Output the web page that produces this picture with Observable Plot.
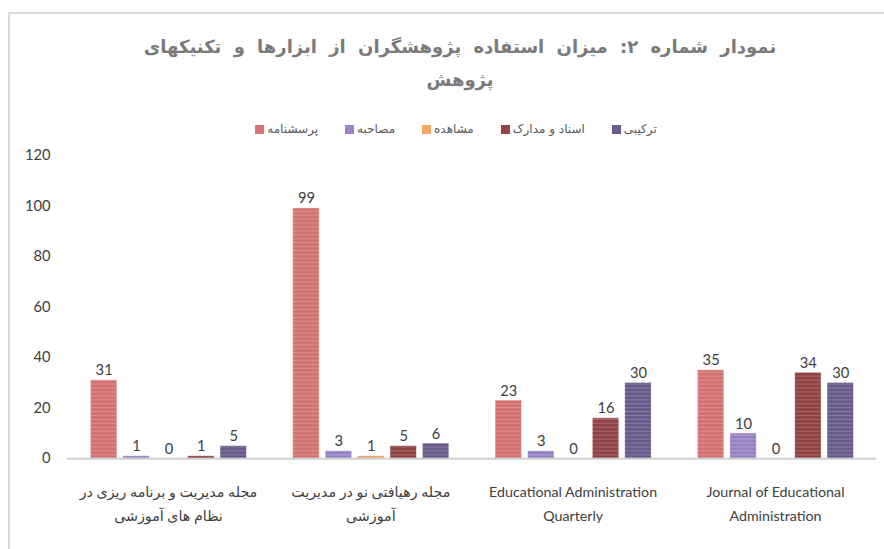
<!DOCTYPE html>
<html>
<head>
<meta charset="utf-8">
<script src="https://cdn.jsdelivr.net/npm/d3@7"></script>
<script src="https://cdn.jsdelivr.net/npm/@observablehq/plot@0.6"></script>
<style>
  html, body { margin: 0; padding: 0; background: #fff; overflow: hidden; width: 884px; height: 549px; }
  #frame { position: absolute; left: 8px; top: 12px; width: 1000px; height: 700px; border-left: 2px solid #d9d9d9; border-top: 2px solid #d9d9d9; }
  #title { position: absolute; left: 60px; width: 800px; top: 30px; text-align: center; direction: rtl;
           font-family: "DejaVu Sans", sans-serif; font-weight: bold; font-size: 18px; line-height: 33px; color: #7a7a7a; word-spacing: 6px; letter-spacing: 1.5px; }
  #legend { position: absolute; left: 0; width: 912px; top: 122px; display: flex; justify-content: center; gap: 27px;
            font-family: "DejaVu Sans", sans-serif; font-size: 12px; color: #595959; }
  #legend .item { display: flex; align-items: center; gap: 3px; }
  #legend .sw { width: 9px; height: 9px; display: inline-block; }
  #chart { position: absolute; left: 0; top: 140px; }
  #chart svg { display: block; }
</style>
</head>
<body>
<div id="frame"></div>
<div id="title">نمودار شماره ۲: میزان استفاده پژوهشگران از ابزارها و تکنیکهای<br>پژوهش</div>
<div id="legend"></div>
<div id="chart"></div>
<script>
const categories = [
  "مجله مدیریت و برنامه ریزی در\nنظام های آموزشی",
  "مجله رهیافتی نو در مدیریت\nآموزشی",
  "Educational Administration\nQuarterly",
  "Journal of Educational\nAdministration"
];
const series = ["پرسشنامه", "مصاحبه", "مشاهده", "اسناد و مدارک", "ترکیبی"];
const questionnaire = [31, 99, 23, 35];
const interview = [1, 3, 3, 10];
const observation = [0, 1, 0, 0];
const documents = [1, 5, 16, 34];
const combined = [5, 6, 30, 30];
const yTicks = [0, 20, 40, 60, 80, 100, 120];
const colors = ["#d77474", "#9a85c6", "#f5a865", "#934545", "#6b5b8e"];

const valuesBySeries = [questionnaire, interview, observation, documents, combined];
const data = [];
categories.forEach((c, i) => {
  series.forEach((s, j) => data.push({cat: c, series: s, value: valuesBySeries[j][i]}));
});

// legend
const legend = document.getElementById("legend");
series.forEach((s, j) => {
  const it = document.createElement("span");
  it.className = "item";
  it.innerHTML = `<span class="sw" style="background:${colors[j]}"></span><span dir="rtl">${s}</span>`;
  legend.appendChild(it);
});

const chart = Plot.plot({
  width: 900,
  height: 409,
  marginTop: 15,
  marginBottom: 85,
  marginLeft: 67,
  marginRight: 7,
  style: {fontFamily: "Lato, 'DejaVu Sans', sans-serif", color: "#595959", background: "transparent"},
  fx: {domain: categories, paddingInner: 0, paddingOuter: 0, axis: null},
  x: {domain: series, paddingInner: 0.19, paddingOuter: 0.7, axis: null},
  y: {domain: [0, 120], axis: null},
  color: {domain: series, range: colors},
  marks: [
    Plot.barY(data, {fx: "cat", x: "series", y: "value", fill: "series", stroke: "#ffffff", strokeOpacity: 0.5, strokeWidth: 1, className: "bars"}),
    Plot.ruleY([0], {stroke: "#d0d0d0", strokeWidth: 2}),
    Plot.text(data, {fx: "cat", x: "series", y: "value", text: d => String(d.value), lineAnchor: "bottom", dy: -5, fill: "#404040", fontSize: 15}),
    Plot.axisY({ticks: yTicks, tickSize: 0, tickPadding: 17, fontSize: 15, label: null, fill: "#404040"}),
    Plot.axisFx({anchor: "bottom", tickSize: 0, tickPadding: 22, fontSize: 14.5, label: null, lineHeight: 1.65, fill: "#404040"})
  ]
});

// subtle horizontal stripe texture like the original bars
const svg = d3.select(chart);
const defs = svg.insert("defs", ":first-child");
colors.forEach((c, j) => {
  const p = defs.append("pattern").attr("id", "stripe" + j).attr("patternUnits", "userSpaceOnUse")
    .attr("width", 6).attr("height", 4);
  p.append("rect").attr("width", 6).attr("height", 4).attr("fill", c);
  p.append("rect").attr("y", 0).attr("width", 6).attr("height", 1).attr("fill", "#ffffff").attr("fill-opacity", 0.18);
  p.append("rect").attr("y", 2).attr("width", 6).attr("height", 1).attr("fill", "#000000").attr("fill-opacity", 0.05);
});
svg.selectAll("g.bars rect").each(function() {
  const f = d3.select(this).attr("fill");
  const j = colors.indexOf(f);
  if (j >= 0) d3.select(this).attr("fill", `url(#stripe${j})`);
});

document.getElementById("chart").appendChild(chart);
</script>
</body>
</html>
